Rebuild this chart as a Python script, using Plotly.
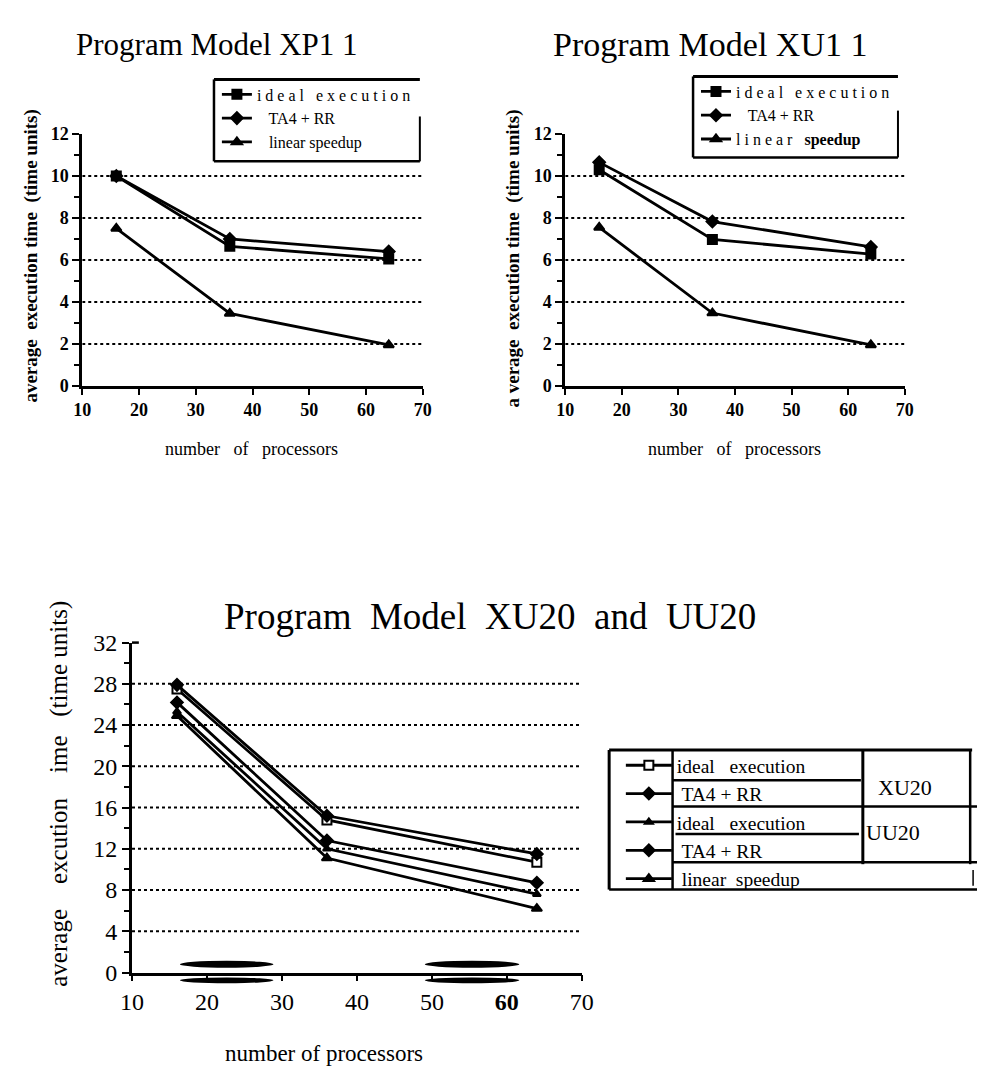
import plotly.graph_objects as go

W, H = 989, 1089
def PX(p): return p / W
def PY(p): return 1 - p / H

SERIF = "Liberation Serif"

# ---------------- data ----------------
procs = [16, 36, 64]

xp11_ideal = [10.0, 6.65, 6.05]
xp11_ta4 = [10.0, 7.0, 6.4]
xp11_linear = [7.5, 3.45, 1.95]

xu11_ideal = [10.3, 6.98, 6.28]
xu11_ta4 = [10.65, 7.83, 6.62]
xu11_linear = [7.55, 3.47, 1.95]

xu20_ideal = [27.5, 14.8, 10.7]
xu20_ta4 = [27.9, 15.2, 11.5]
uu20_ideal = [25.3, 12.0, 7.6]
uu20_ta4 = [26.2, 12.8, 8.7]
uu20_linear = [24.9, 11.1, 6.2]

x_ticks = [10, 20, 30, 40, 50, 60, 70]
y_ticks_top = [0, 2, 4, 6, 8, 10, 12]
grid_top = [2, 4, 6, 8, 10]
y_ticks_bot = [0, 4, 8, 12, 16, 20, 24, 28, 32]
grid_bot = [4, 8, 12, 16, 20, 24, 28]

fig = go.Figure()

def add(x, y, name, sym, xa, ya, leg, size=9, lw=2.8, fill="black"):
    fig.add_trace(go.Scatter(
        x=x, y=y, name=name, mode="lines+markers",
        line=dict(color="black", width=lw),
        marker=dict(symbol=sym, size=size, color=fill, line=dict(color="black", width=2)),
        xaxis=xa, yaxis=ya, legend=leg))

add(procs, xp11_ideal, "i d e a l   e x e c u t i o n", "square", "x", "y", "legend")
add(procs, xp11_ta4, "   TA4 + RR", "diamond", "x", "y", "legend")
add(procs, xp11_linear, "   linear speedup", "triangle-up", "x", "y", "legend")

add(procs, xu11_ideal, "i d e a l   e x e c u t i o n", "square", "x2", "y2", "legend2")
add(procs, xu11_ta4, "   TA4 + RR", "diamond", "x2", "y2", "legend2")
add(procs, xu11_linear, "l i n e a r   <b>speedup</b>", "triangle-up", "x2", "y2", "legend2")

add(procs, xu20_ideal, "ideal   execution", "square", "x3", "y3", "legend3", fill="white")
add(procs, xu20_ta4, " TA4 + RR", "diamond", "x3", "y3", "legend3")
add(procs, uu20_ideal, "ideal   execution", "triangle-up", "x3", "y3", "legend3", size=7)
add(procs, uu20_ta4, " TA4 + RR", "diamond", "x3", "y3", "legend3")
add(procs, uu20_linear, " linear  speedup", "triangle-up", "x3", "y3", "legend3")

def xax(dom, anchor, font, ticktext):
    return dict(domain=dom, anchor=anchor, range=[10, 70], tickvals=x_ticks,
                ticktext=ticktext, showline=True, linecolor="black", linewidth=2.8,
                ticks="outside", ticklen=6, tickwidth=2, tickcolor="black",
                showgrid=False, zeroline=False, tickfont=font, fixedrange=True)

def yax(dom, anchor, rng, tv, tt, font, minor_d):
    return dict(domain=dom, anchor=anchor, range=rng, tickvals=tv, ticktext=tt,
                showline=True, linecolor="black", linewidth=2.8,
                ticks="outside", ticklen=7, tickwidth=2, tickcolor="black",
                minor=dict(dtick=minor_d, ticks="outside", ticklen=5, tickwidth=2, tickcolor="black"),
                showgrid=False, zeroline=False, tickfont=font, fixedrange=True)

ftop = dict(family=SERIF, size=18, color="black")
fbot = dict(family=SERIF, size=24, color="black")
bold_x = ["<b>%d</b>" % v for v in x_ticks]
bold_y = ["<b>%d</b>" % v for v in y_ticks_top]
bot_x = [("<b>%d</b>" % v) if v == 60 else str(v) for v in x_ticks]
bot_y = [str(v) for v in y_ticks_bot]

fig.update_layout(
    width=W, height=H, margin=dict(l=0, r=0, t=0, b=0),
    paper_bgcolor="white", plot_bgcolor="white",
    xaxis=xax([PX(72), PX(421)], "y", ftop, bold_x),
    yaxis=yax([PY(382), PY(124)], "x", [0, 12], y_ticks_top, bold_y, ftop, 1),
    xaxis2=xax([PX(567), PX(915)], "y2", ftop, bold_x),
    yaxis2=yax([PY(382), PY(124)], "x2", [0, 12], y_ticks_top, bold_y, ftop, 1),
    xaxis3=xax([PX(123), PX(584)], "y3", fbot, bot_x),
    yaxis3=yax([PY(983), PY(645)], "x3", [0, 32], y_ticks_bot, bot_y, fbot, 2),
)

leg_common = dict(bgcolor="rgba(0,0,0,0)", borderwidth=0, xanchor="left", yanchor="top",
                  itemclick=False, itemdoubleclick=False, tracegroupgap=0)
fig.update_layout(
    legend=dict(x=PX(210), y=PY(66), font=dict(family=SERIF, size=16, color="black"), **leg_common),
    legend2=dict(x=PX(701), y=PY(63), font=dict(family=SERIF, size=16, color="black"), **leg_common),
    legend3=dict(x=PX(624), y=PY(751), itemwidth=46,
                 font=dict(family=SERIF, size=19.5, color="black"), **leg_common),
)

shapes = []
def gl(xref, yref, g):
    shapes.append(dict(type="line", xref=xref, yref=yref, x0=10, x1=70, y0=g, y1=g,
                       line=dict(color="black", width=2, dash="dot")))
for g in grid_top:
    gl("x", "y", g)
    gl("x2", "y2", g)
for g in grid_bot:
    gl("x3", "y3", g)

def pline(x0, y0, x1, y1, w=2.5):
    shapes.append(dict(type="line", xref="paper", yref="paper",
                       x0=PX(x0), y0=PY(y0), x1=PX(x1), y1=PY(y1),
                       line=dict(color="black", width=w)))

# top legend boxes
pline(207, 68, 418, 68, 3); pline(207, 68, 207, 152, 2.5); pline(207, 152, 418, 152, 2.5); pline(418, 106, 418, 152, 2)
pline(698, 65, 908, 65, 3); pline(698, 65, 698, 148, 2.5); pline(698, 148, 908, 148, 2.5); pline(908, 100, 908, 148, 2)

# bottom legend table
pline(612, 755, 984, 755, 3)
pline(612, 755, 612, 898, 3)
pline(612, 898, 989, 898, 2.5)
pline(677, 755, 677, 898, 2.5)
pline(872, 755, 872, 872, 3)
pline(982, 755, 982, 872, 2.5)
pline(677, 786, 870, 786, 2.5)
pline(677, 813, 989, 813, 2.5)
pline(680, 841, 868, 841, 2.5)
pline(677, 870, 989, 870, 2.5)
pline(985, 878, 985, 894, 1.5)

# smudges near bottom x-axis
for (a, b, c, d) in [(172, 971, 268, 978), (423, 971, 520, 978), (172, 988, 268, 994), (423, 988, 520, 994)]:
    shapes.append(dict(type="circle", xref="paper", yref="paper", x0=PX(a), y0=PY(b), x1=PX(c), y1=PY(d),
                       fillcolor="black", line=dict(width=0)))
# small hook at top of bottom y-axis
pline(123, 645, 130, 645, 2.5)
fig.update_layout(shapes=shapes)

ann = []
def txt(s, x, y, size, angle=0, bold=False):
    ann.append(dict(text=("<b>%s</b>" % s) if bold else s, x=PX(x), y=PY(y), xref="paper", yref="paper",
                    showarrow=False, textangle=angle, xanchor="center", yanchor="middle",
                    font=dict(family=SERIF, size=size, color="black")))

txt("Program Model XP1 1", 210, 32, 31)
txt("Program Model XU1 1", 715, 32, 34)
txt("Program  Model  XU20  and  UU20", 490, 618, 37)
txt("average  execution time  (time units)", 20, 249, 19, -90, True)
txt("a verage  execution time  (time units)", 513, 252, 19, -90, True)
txt("average    excution    ime   (time units)", 48, 800, 25, -90)
txt("number   of   processors", 245, 447, 18)
txt("number   of   processors", 740, 447, 18)
txt("number of processors", 320, 1066, 23)
txt("XU20", 915, 793, 22)
txt("UU20", 903, 840, 22)
fig.update_layout(annotations=ann)

fig.write_html("out.html")
